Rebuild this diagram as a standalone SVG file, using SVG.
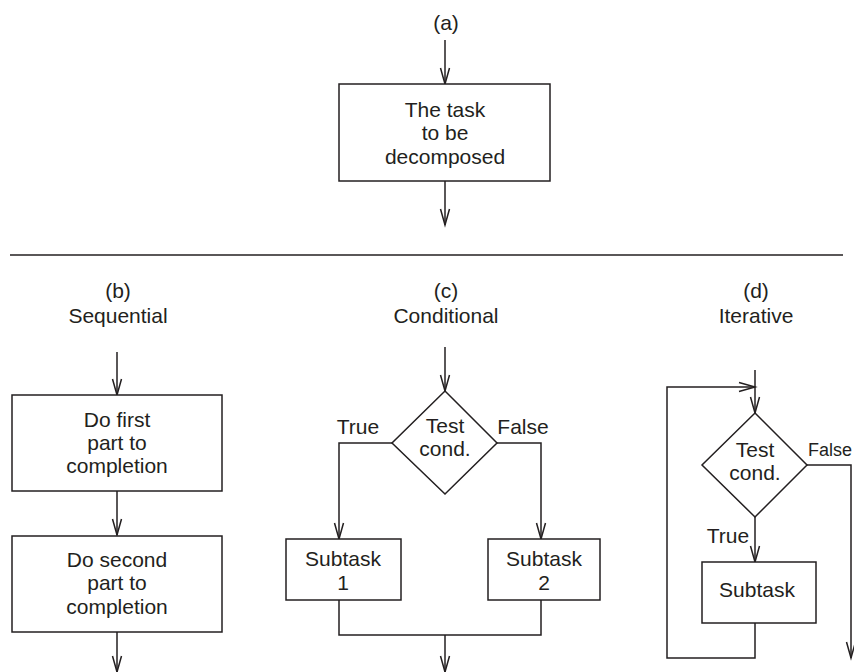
<svg xmlns="http://www.w3.org/2000/svg" width="854" height="672" viewBox="0 0 854 672">
<style>
text{font-family:"Liberation Sans",Arial,sans-serif;font-size:21px;fill:#231f20;text-anchor:middle}
.box{fill:#fff;stroke:#231f20;stroke-width:1.5}
.ln{fill:none;stroke:#231f20;stroke-width:1.5}
.arr{fill:none;stroke:#231f20;stroke-width:1.5;marker-end:url(#ah)}
</style>
<defs>
<marker id="ah" markerUnits="userSpaceOnUse" markerWidth="20" markerHeight="12" viewBox="-16 -6 18 12" refX="0" refY="0" orient="auto" overflow="visible">
<path d="M-16,-4.5 L0,0 L-16,4.5" fill="none" stroke="#231f20" stroke-width="1.5"/>
</marker>
</defs>
<rect width="854" height="672" fill="#fff"/>

<g id="labels">
<text x="446" y="30">(a)</text>
<text x="118" y="298">(b)</text>
<text x="118" y="323">Sequential</text>
<text x="446" y="298">(c)</text>
<text x="446" y="323">Conditional</text>
<text x="756" y="298">(d)</text>
<text x="756" y="323">Iterative</text>
</g>

<g id="connectors">
<path class="arr" d="M445,40 V84"/>
<path class="arr" d="M445,181 V225"/>
<path class="ln" d="M10,255 H843"/>
<path class="arr" d="M117,352 V395"/>
<path class="arr" d="M117,491 V535"/>
<path class="arr" d="M117,632 V672"/>
<path class="arr" d="M445,347 V391"/>
<path class="arr" d="M392,443 H339 V539"/>
<path class="arr" d="M497,443 H541 V539"/>
<path class="ln" d="M339,600 V635 H541 V600"/>
<path class="arr" d="M445,635 V672"/>
<path class="arr" d="M755,370 V413"/>
<path class="arr" d="M755,517 V562"/>
<path class="arr" d="M807,465 H851 V658"/>
<path class="arr" d="M755,623 V658 H667 V387 H755"/>
</g>

<g id="task">
<rect class="box" x="339" y="84" width="211" height="97"/>
<text x="445" y="117">The task</text>
<text x="445" y="140">to be</text>
<text x="445" y="164">decomposed</text>
</g>

<g id="seq1">
<rect class="box" x="12" y="395" width="210" height="96"/>
<text x="117" y="427">Do first</text>
<text x="117" y="450">part to</text>
<text x="117" y="473">completion</text>
</g>
<g id="seq2">
<rect class="box" x="12" y="536" width="210" height="96"/>
<text x="117" y="567">Do second</text>
<text x="117" y="590">part to</text>
<text x="117" y="614">completion</text>
</g>

<g id="cond">
<path class="box" d="M445,391 L497,443 L445,494 L392,443 Z"/>
<text x="445" y="433">Test</text>
<text x="445" y="456">cond.</text>
</g>
<g id="condlabels">
<text x="358" y="434">True</text>
<text x="523" y="434">False</text>
</g>
<g id="sub1">
<rect class="box" x="286" y="539" width="115" height="61"/>
<text x="343" y="566">Subtask</text>
<text x="343" y="590">1</text>
</g>
<g id="sub2">
<rect class="box" x="488" y="539" width="112" height="61"/>
<text x="544" y="566">Subtask</text>
<text x="544" y="590">2</text>
</g>

<g id="iter">
<path class="box" d="M755,413 L807,465 L755,517 L702,465 Z"/>
<text x="755" y="457">Test</text>
<text x="755" y="480">cond.</text>
</g>
<g id="iterlabels">
<text x="728" y="543">True</text>
<text x="808" y="456" style="text-anchor:start;font-size:18px">False</text>
</g>
<g id="isub">
<rect class="box" x="702" y="562" width="114" height="61"/>
<text x="757" y="597">Subtask</text>
</g>
</svg>
